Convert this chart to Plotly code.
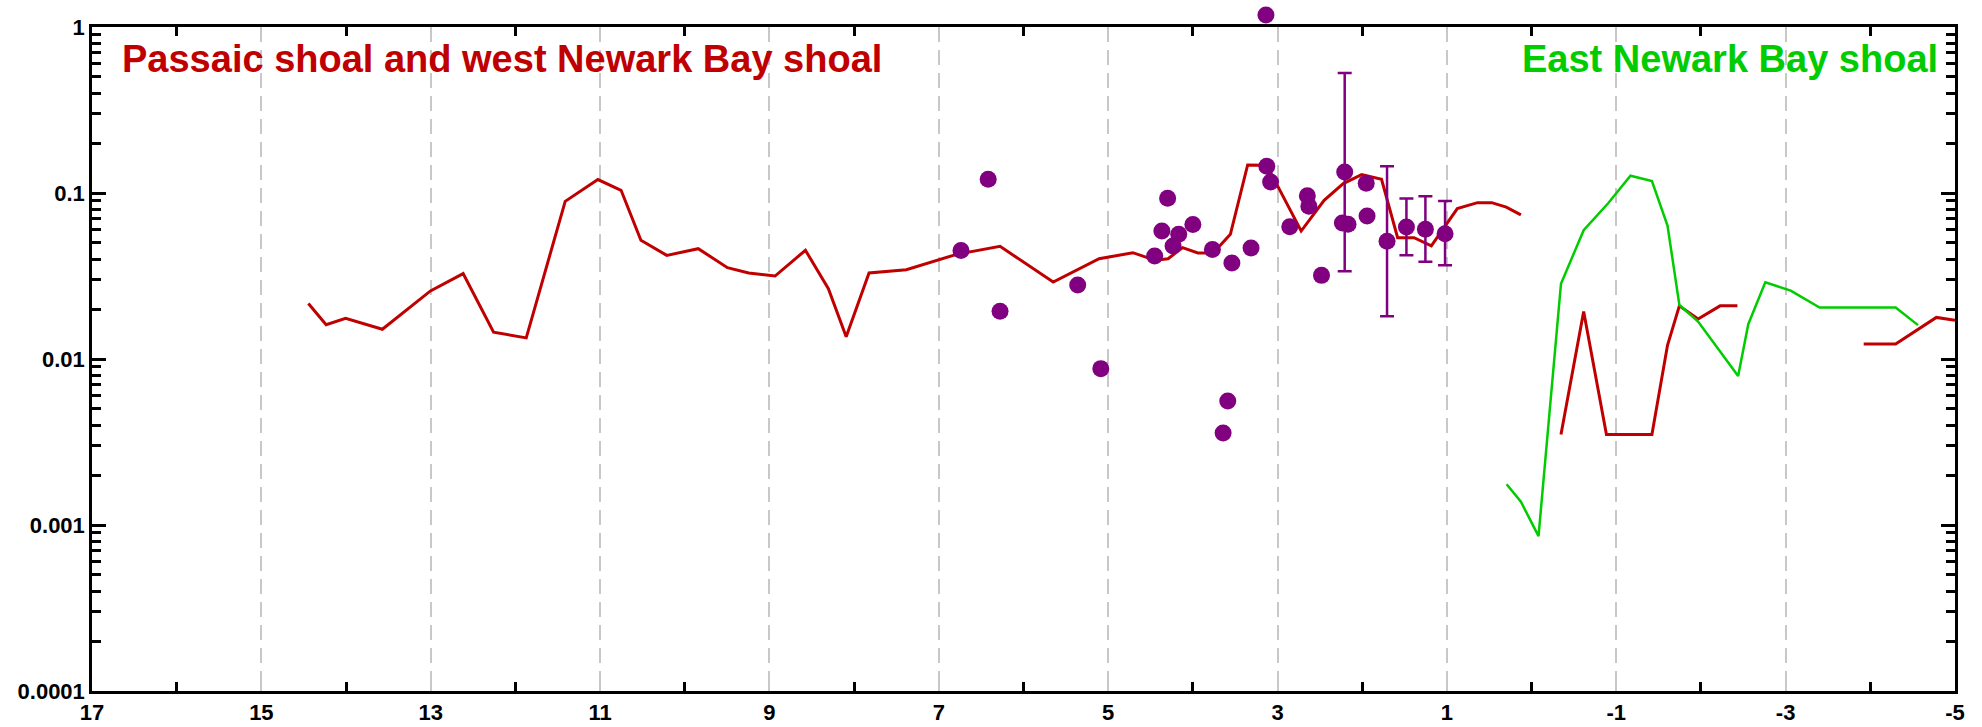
import plotly.graph_objects as go

# ---------------- data ----------------
# Red line (Passaic shoal and west Newark Bay shoal); None = gap
red_x = [14.445, 14.235, 14.005, 13.571, 13.003, 12.617, 12.258, 11.872, 11.412, 11.026,
         10.752, 10.518, 10.213, 9.841, 9.496, 9.245, 8.934, 8.575, 8.304, 8.094,
         7.824, 7.384, 6.79, 6.277, 5.649, 5.107, 4.709, 4.447, 4.293, 4.122,
         3.941, 3.760, 3.557, 3.353, 3.127, 2.721, 2.450, 2.224, 2.007, 1.772,
         1.582, 1.388, 1.184, 0.877, 0.639, 0.471, 0.299, 0.126,
         None,
         -0.347, -0.615, -0.884, -1.421, -1.605, -1.745, -1.966, -2.226, -2.431,
         None,
         -3.922, -4.299, -4.780, -5.0]
red_y = [0.0216, 0.0161, 0.0176, 0.0151, 0.0257, 0.0327, 0.0145, 0.0134, 0.0891, 0.1205,
         0.1038, 0.0519, 0.0421, 0.0462, 0.0355, 0.0330, 0.0316, 0.0452, 0.0265, 0.0136,
         0.0330, 0.0345, 0.0427, 0.0477, 0.0291, 0.0402, 0.0437, 0.0393, 0.0402, 0.0469,
         0.0435, 0.0435, 0.0564, 0.1475, 0.1470, 0.0590, 0.0903, 0.1140, 0.1290, 0.1210,
         0.0538, 0.0538, 0.0480, 0.0805, 0.0875, 0.0875, 0.0822, 0.0738,
         None,
         0.00351, 0.0193, 0.00351, 0.00351, 0.0121, 0.0209, 0.0174, 0.0209, 0.0209,
         None,
         0.0123, 0.0123, 0.0178, 0.0171]

# Green line (East Newark Bay shoal)
green_x = [0.295, 0.126, -0.082, -0.347, -0.615, -0.904, -1.168, -1.421, -1.605, -1.745,
           -1.966, -2.439, -2.559, -2.760, -3.060, -3.401, -4.299, -4.563]
green_y = [0.00176, 0.00138, 0.000857, 0.0284, 0.0597, 0.0867, 0.127, 0.118, 0.0637, 0.0212,
           0.0168, 0.0079, 0.0162, 0.0290, 0.0258, 0.0204, 0.0204, 0.0160]

# Purple sample points
pts_x = [6.417, 6.738, 6.277, 5.360, 5.087, 4.298, 4.366, 4.167, 4.234,
         4.000, 4.451, 3.769, 3.539, 3.313, 3.127, 3.082, 2.856, 2.648, 2.630,
         2.481, 3.588, 3.643, 2.234, 2.168, 1.953, 1.943]
pts_y = [0.121, 0.0451, 0.0194, 0.0279, 0.00875, 0.0929, 0.0590, 0.0564, 0.0480,
         0.0645, 0.0417, 0.0456, 0.0379, 0.0466, 0.1448, 0.1165, 0.0627, 0.0964, 0.0831,
         0.0319, 0.00558, 0.00358, 0.0660, 0.0648, 0.1144, 0.0727]

# Purple point lying above the top of the axis (value > 1)
high_x = [3.137]
high_y = [1.18]

# Purple points with error bars
err_x = [2.207, 1.707, 1.478, 1.254, 1.022]
err_y = [0.134, 0.0512, 0.0624, 0.0604, 0.0569]
err_hi = [0.528, 0.145, 0.0925, 0.0955, 0.0895]
err_lo = [0.0338, 0.0181, 0.0421, 0.0386, 0.0367]

x_ticks = [17, 15, 13, 11, 9, 7, 5, 3, 1, -1, -3, -5]
x_minor = [16, 14, 12, 10, 8, 6, 4, 2, 0, -2, -4]
y_ticks = [0.0001, 0.001, 0.01, 0.1, 1]
y_labels = ["0.0001", "0.001", "0.01", "0.1", "1"]

# ---------------- styles / geometry ----------------
RED = "#c00000"
GREEN = "#00cc00"
PURPLE = "#800080"
FONT = "Liberation Sans, Arial, sans-serif"

W, H = 1982, 727
M_L, M_R, M_T, M_B = 92, 27, 5, 36
PLOT_H = H - M_T - M_B            # full paper height in px
MAIN_H = 664                      # height of the visible axes box
dom_top = MAIN_H / PLOT_H
y_lo, y_hi = -4.0, 0.0
y2_hi = y_lo + (y_hi - y_lo) / dom_top   # same scale, extended upward

fig = go.Figure()

fig.add_trace(go.Scatter(x=red_x, y=red_y, mode="lines", connectgaps=False,
                         line=dict(color=RED, width=3), showlegend=False))
fig.add_trace(go.Scatter(x=green_x, y=green_y, mode="lines",
                         line=dict(color=GREEN, width=2.5), showlegend=False))
fig.add_trace(go.Scatter(x=pts_x, y=pts_y, mode="markers",
                         marker=dict(color=PURPLE, size=17), showlegend=False))
fig.add_trace(go.Scatter(
    x=err_x, y=err_y, mode="markers", cliponaxis=False,
    marker=dict(color=PURPLE, size=17),
    error_y=dict(type="data", symmetric=False,
                 array=[h - v for h, v in zip(err_hi, err_y)],
                 arrayminus=[v - l for v, l in zip(err_y, err_lo)],
                 color=PURPLE, thickness=2.5, width=7),
    showlegend=False))
# point above the axes box, drawn on an invisible axis pair with the same scale
fig.add_trace(go.Scatter(x=high_x, y=high_y, xaxis="x2", yaxis="y2", mode="markers",
                         marker=dict(color=PURPLE, size=17), showlegend=False))

fig.update_layout(
    width=W, height=H,
    margin=dict(l=M_L, r=M_R, t=M_T, b=M_B, autoexpand=False),
    paper_bgcolor="white", plot_bgcolor="rgba(0,0,0,0)",
    font=dict(family=FONT, size=22, color="black"),
    xaxis=dict(
        range=[17, -5], autorange=False, domain=[0, 1], anchor="y",
        tickmode="array", tickvals=x_ticks,
        ticktext=["<b>%d</b>" % v for v in x_ticks],
        ticks="inside", ticklen=9, tickwidth=2, tickcolor="#c8c8c8",
        showgrid=True, gridcolor="#c8c8c8", gridwidth=2, griddash="15px,8px",
        minor=dict(tickmode="array", tickvals=x_minor, ticks="inside", ticklen=9,
                   tickwidth=2.5, tickcolor="black", showgrid=False),
        showline=True, linecolor="black", linewidth=2.5, mirror="ticks",
        zeroline=False, automargin=False,
        tickfont=dict(family=FONT, size=22, color="black"),
    ),
    yaxis=dict(
        type="log", range=[y_lo, y_hi], autorange=False, domain=[0, dom_top], anchor="x",
        tickmode="array", tickvals=y_ticks,
        ticktext=["<b>%s</b>" % s for s in y_labels],
        ticks="inside", ticklen=14, tickwidth=2.5, tickcolor="black",
        showgrid=False,
        minor=dict(tickmode="array",
                   tickvals=[m * 10 ** e for e in range(-4, 0) for m in range(2, 10)],
                   ticks="inside", ticklen=9, tickwidth=2.5, tickcolor="black",
                   showgrid=False),
        showline=True, linecolor="black", linewidth=2.5, mirror="ticks",
        zeroline=False, automargin=False,
        tickfont=dict(family=FONT, size=22, color="black"),
    ),
    xaxis2=dict(range=[17, -5], autorange=False, domain=[0, 1], anchor="y2",
                visible=False, showgrid=False, zeroline=False),
    yaxis2=dict(type="log", range=[y_lo, y2_hi], autorange=False, domain=[0, 1],
                anchor="x2", visible=False, showgrid=False, zeroline=False),
    annotations=[
        dict(text="<b>Passaic shoal and west Newark Bay shoal</b>", xref="paper", yref="paper",
             x=0.015, y=(PLOT_H - 59 + M_T) / PLOT_H, xanchor="left", yanchor="middle",
             showarrow=False, font=dict(family=FONT, size=38, color=RED)),
        dict(text="<b>East Newark Bay shoal</b>", xref="paper", yref="paper",
             x=0.992, y=(PLOT_H - 59 + M_T) / PLOT_H, xanchor="right", yanchor="middle",
             showarrow=False, font=dict(family=FONT, size=38, color=GREEN)),
    ],
)

fig.write_html("out.html", config={"displayModeBar": False},
               post_script="document.body.style.margin='0';")
